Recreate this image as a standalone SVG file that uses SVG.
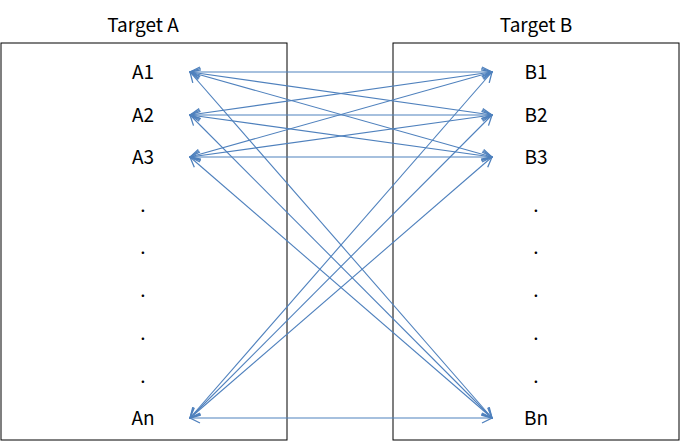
<svg xmlns="http://www.w3.org/2000/svg" width="681" height="445" viewBox="0 0 681 445">
<style>
text{font-family:"Malgun Gothic","Noto Sans CJK KR","Liberation Sans",sans-serif;font-size:19px;text-anchor:middle;fill:#000}
.box{fill:#fff;stroke:#000;stroke-width:1}
.c line{stroke:#4f81bd;stroke-width:1.1;marker-start:url(#a);marker-end:url(#a)}
</style>
<defs>
<marker id="a" viewBox="0 0 12 12" refX="11" refY="6" markerWidth="12" markerHeight="12" markerUnits="userSpaceOnUse" orient="auto-start-reverse">
<path d="M1,1 L11,6 L1,11" fill="none" stroke="#4f81bd" stroke-width="1.3"/>
</marker>
</defs>
<rect width="681" height="445" fill="#fff"/>
<g id="targetA"><rect class="box" x="1" y="43" width="286" height="397"/><text x="143" y="32">Target A</text>
<text x="143" y="79">A1</text><text x="143" y="122">A2</text><text x="143" y="164">A3</text>
<text x="143" y="212">.</text><text x="143" y="254">.</text><text x="143" y="297">.</text><text x="143" y="340">.</text><text x="143" y="383">.</text>
<text x="143" y="425">An</text></g>
<g id="targetB"><rect class="box" x="393" y="43" width="286" height="397"/><text x="536" y="32">Target B</text>
<text x="536" y="79">B1</text><text x="536" y="122">B2</text><text x="536" y="164">B3</text>
<text x="536" y="212">.</text><text x="536" y="254">.</text><text x="536" y="297">.</text><text x="536" y="340">.</text><text x="536" y="383">.</text>
<text x="536" y="425">Bn</text></g>
<g class="c" id="connectors">
<line x1="190" y1="72" x2="492" y2="72"/><line x1="190" y1="72" x2="492" y2="115"/><line x1="190" y1="72" x2="492" y2="157"/><line x1="190" y1="72" x2="492" y2="418"/>
<line x1="190" y1="115" x2="492" y2="72"/><line x1="190" y1="115" x2="492" y2="115"/><line x1="190" y1="115" x2="492" y2="157"/><line x1="190" y1="115" x2="492" y2="418"/>
<line x1="190" y1="157" x2="492" y2="72"/><line x1="190" y1="157" x2="492" y2="115"/><line x1="190" y1="157" x2="492" y2="157"/><line x1="190" y1="157" x2="492" y2="418"/>
<line x1="190" y1="418" x2="492" y2="72"/><line x1="190" y1="418" x2="492" y2="115"/><line x1="190" y1="418" x2="492" y2="157"/><line x1="190" y1="418" x2="492" y2="418"/>
</g>
</svg>
